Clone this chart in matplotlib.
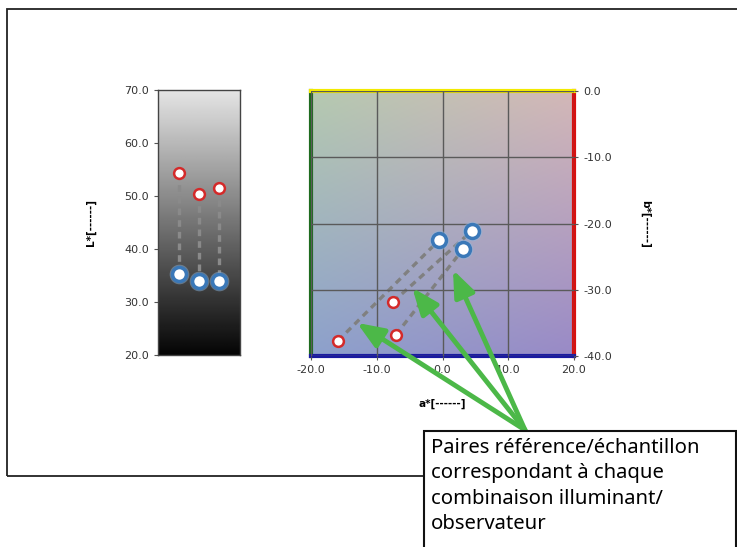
import numpy as np
import matplotlib.pyplot as plt
from matplotlib.patches import Rectangle

# L* values for reference (red) and sample (blue), one per illuminant/observer pair
pair_pos = [1, 2, 3]
L_ref = [54.3, 50.3, 51.5]
L_smp = [35.3, 34.0, 34.0]

# a*, b* values
a_ref = [-15.9, -7.5, -7.1]
b_ref = [-37.7, -31.8, -36.8]
a_smp = [-0.5, 4.5, 3.1]
b_smp = [-22.5, -21.1, -23.9]

L_ticks = [20, 30, 40, 50, 60, 70]
a_ticks = [-20, -10, 0, 10, 20]
b_ticks = [-40, -30, -20, -10, 0]

note = "Paires référence/échantillon\ncorrespondant à chaque\ncombinaison illuminant/\nobservateur"

W, H = 737, 547
fig = plt.figure(figsize=(W / 100, H / 100), dpi=100)


def px_axes(left, top, right, bottom):
    return fig.add_axes([left / W, 1 - bottom / H, (right - left) / W, (bottom - top) / H])


# outer frame
fig.add_artist(Rectangle((7 / W, 1 - 476 / H), 740 / W, 467 / H, transform=fig.transFigure,
                         fill=False, lw=1.3, ec='#222222'))

tick_kw = dict(labelsize=8, labelcolor='#333333', colors='#555555', length=3, width=0.8)

# ---- L* panel
ax1 = px_axes(158, 90, 240, 355)
grad = np.linspace(0.90, 0.02, 256)[:, None] * np.ones((1, 2))
ax1.imshow(grad, cmap='gray', vmin=0, vmax=1, extent=[0, 4, 20, 70], aspect='auto', zorder=0)
ax1.set_xlim(0, 4)
ax1.set_ylim(20, 70)
ax1.set_xticks([])
ax1.set_yticks(L_ticks)
ax1.set_yticklabels([f"{t:.1f}" for t in L_ticks])
ax1.tick_params(axis='y', **tick_kw)
for s in ax1.spines.values():
    s.set_color('#444444')
    s.set_linewidth(1.0)
for x, lr, ls in zip(pair_pos, L_ref, L_smp):
    ax1.plot([x, x], [lr, ls], ls=(0, (2, 1.5)), color='#8a8a8a', lw=2.4, zorder=2)
ax1.scatter(pair_pos, L_smp, s=200, color='#8fb8e0', alpha=0.45, lw=0, zorder=3)
ax1.scatter(pair_pos, L_smp, s=100, facecolor='white', edgecolor='#3a78b8', lw=2.5, zorder=4)
ax1.scatter(pair_pos, L_ref, s=60, facecolor='white', edgecolor='#d42a2a', lw=1.8, zorder=4)
ax1.set_ylabel("L*[------]", fontsize=7.5, fontweight='bold', labelpad=20)

# ---- a*b* panel
ax2 = px_axes(311, 91, 574, 356)
tl = np.array([0.71, 0.79, 0.69])
tr = np.array([0.83, 0.72, 0.72])
bl = np.array([0.55, 0.63, 0.80])
br = np.array([0.60, 0.54, 0.78])
u = np.linspace(0, 1, 200)[None, :, None]
v = np.linspace(0, 1, 200)[:, None, None]
img = (1 - v) * ((1 - u) * tl + u * tr) + v * ((1 - u) * bl + u * br)
ax2.imshow(img, extent=[-20, 20, -40, 0], aspect='auto', zorder=0, interpolation='bilinear')
ax2.set_xlim(-20, 20)
ax2.set_ylim(-40, 0)
ax2.set_xticks(a_ticks)
ax2.set_xticklabels([f"{t:.1f}" for t in a_ticks])
ax2.set_yticks(b_ticks)
ax2.set_yticklabels([f"{t:.1f}" for t in b_ticks])
ax2.yaxis.tick_right()
ax2.tick_params(**tick_kw)
ax2.grid(True, color='#5a5a5a', lw=1.0, zorder=1)
ax2.set_axisbelow(False)
ax2.spines['top'].set_color('#f2ea00')
ax2.spines['left'].set_color('#1e6b1e')
ax2.spines['right'].set_color('#d81010')
ax2.spines['bottom'].set_color('#1a1aa0')
for s in ax2.spines.values():
    s.set_linewidth(3)
for ar, br_, asm, bsm in zip(a_ref, b_ref, a_smp, b_smp):
    ax2.plot([ar, asm], [br_, bsm], ls=(0, (2, 1.5)), color='#808080', lw=2.4, zorder=2)
ax2.scatter(a_smp, b_smp, s=200, color='#8fb8e0', alpha=0.45, lw=0, zorder=3)
ax2.scatter(a_smp, b_smp, s=100, facecolor='white', edgecolor='#3a78b8', lw=2.5, zorder=4)
ax2.scatter(a_ref, b_ref, s=60, facecolor='white', edgecolor='#d42a2a', lw=1.8, zorder=4)
ax2.set_xlabel("a*[------]", fontsize=7.5, fontweight='bold', labelpad=17)
ax2.yaxis.set_label_position('right')
ax2.set_ylabel("b*[------]", fontsize=7.5, fontweight='bold', rotation=-90, labelpad=28)

# ---- note box with arrows
fig.add_artist(Rectangle((424 / W, -0.05), 312 / W, 1 - 431 / H + 0.05, transform=fig.transFigure,
                         fc='white', ec='#111111', lw=1.5, zorder=5))
fig.text(431 / W, 1 - 438 / H, note, fontsize=14.6, family=['Noto Sans', 'DejaVu Sans'],
         va='top', ha='left', linespacing=1.36, zorder=6)

heads = [(-13.0, -35.0), (-4.6, -29.7), (1.6, -27.0)]
for hx, hy in heads:
    ax2.annotate("", xy=(hx, hy), xycoords='data',
                 xytext=(525 / W, 1 - 430 / H), textcoords='figure fraction',
                 arrowprops=dict(arrowstyle='-|>,head_length=0.8,head_width=0.32',
                                 mutation_scale=20, color='#4cb848', lw=3.5,
                                 shrinkA=0, shrinkB=0),
                 annotation_clip=False, zorder=7)

fig.savefig("out.png", dpi=100)
